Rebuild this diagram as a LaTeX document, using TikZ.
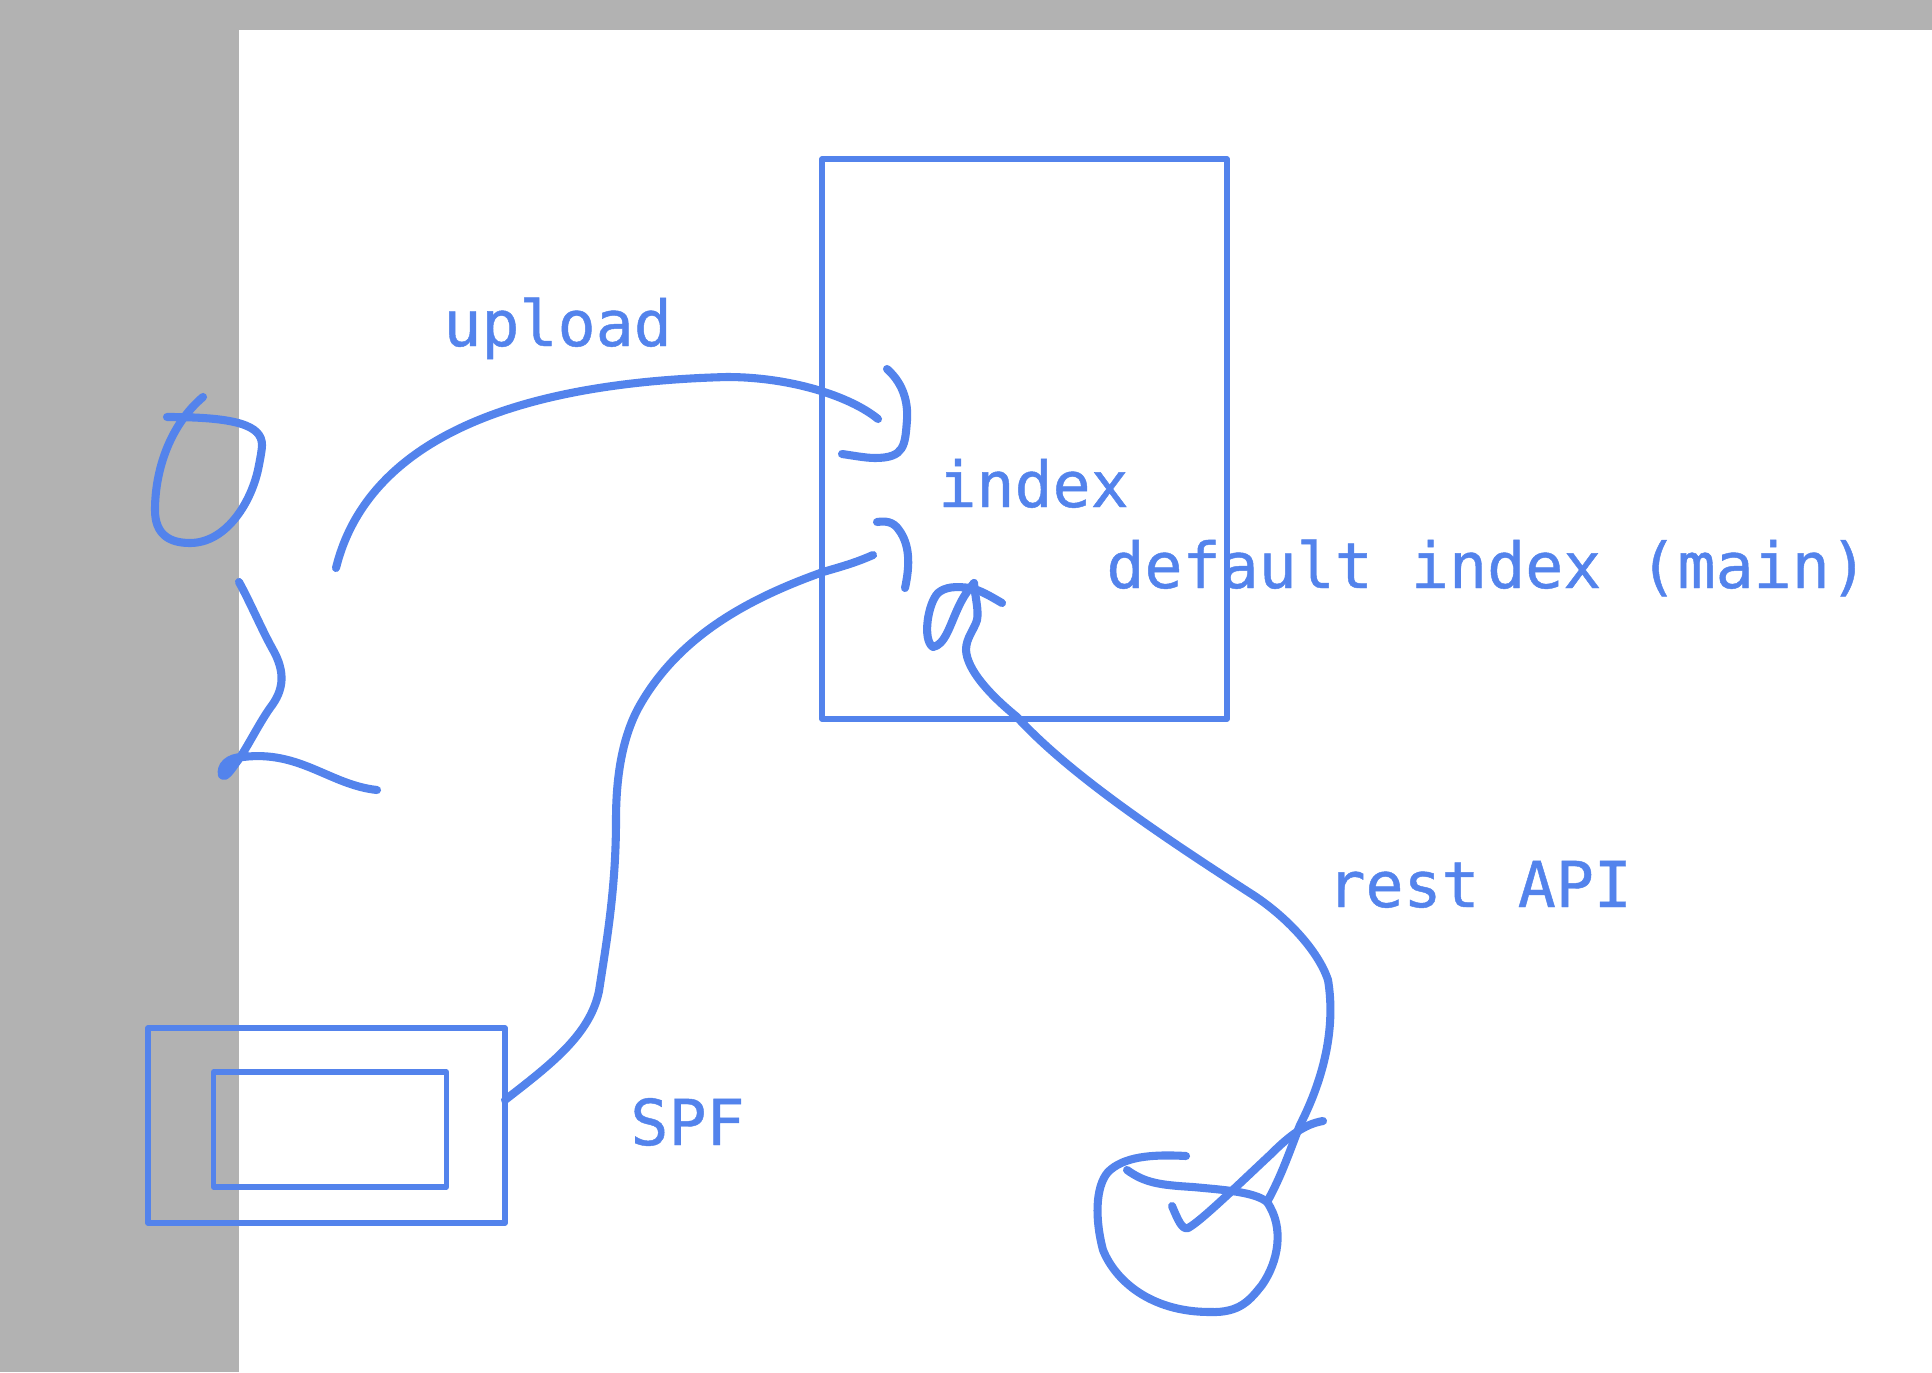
\documentclass[tikz,border=0pt]{standalone}
\usepackage{xcolor}
\usepackage{fontspec}
\setmonofont{DejaVu Sans Mono}[FakeBold=0.7]
\definecolor{penblue}{HTML}{5383EC}
\definecolor{sidegray}{HTML}{B2B2B2}
\tikzset{
  box/.style={rectangle,draw=penblue,line width=2.9pt,line join=round},
  label/.style={anchor=base west,inner sep=0pt,text=penblue,font=\ttfamily\fontsize{36}{40}\selectfont},
  pen/.style={draw=penblue,line width=4.6pt,line cap=round,line join=round}
}
\begin{document}
\begin{tikzpicture}[x=0.02cm,y=-0.02cm]
\useasboundingbox (0,0) rectangle (1932,1372);
\fill[sidegray] (0,0) rectangle (1932,30);
\fill[sidegray] (0,0) rectangle (239,1372);

\node (Index)[box,minimum width=405*0.02cm,minimum height=560*0.02cm] at (1024.5,439) {};
\node (SpfOuter)[box,minimum width=357*0.02cm,minimum height=195*0.02cm] at (326.5,1125.5) {};
\node (SpfInner)[box,minimum width=233*0.02cm,minimum height=115*0.02cm] at (330,1129.5) {};

\node (Upload)[label] at (443,346) {upload};
\node (IndexText)[label] at (938,507) {index};
\node (Default)[label] at (1106,588) {default index (main)};
\node (Rest)[label] at (1327,907) {rest API};
\node (Spf)[label] at (630,1145) {SPF};

\coordinate (SpfOut) at (505,1100);
\coordinate (IndexIn) at (878,419);
\coordinate (IndexOut) at (873,555);
\coordinate (ApiTip) at (974,583);
\coordinate (BlobTop) at (1267,1202);

% person
\draw[pen] (203,397) .. controls (170,425) and (155,470) .. (155,510)
  .. controls (155,535) and (170,543) .. (190,543)
  .. controls (225,543) and (250,505) .. (258,470)
  .. controls (260,460) and (262,450) .. (262,445)
  .. controls (262,425) and (235,417) .. (167,417);
\draw[pen] (239,582) .. controls (250,602) and (262,630) .. (272,648)
  .. controls (286,672) and (284,690) .. (270,708)
  .. controls (258,725) and (245,752) .. (236,763)
  .. controls (230,772) and (224,779) .. (222,775)
  .. controls (220,766) and (228,757) .. (243,757)
  .. controls (300,750) and (330,785) .. (377,790);

% upload
\draw[pen] (336,568) .. controls (360,470) and (460,384) .. (727,377)
  .. controls (790,377) and (850,396) .. (IndexIn);
\draw[pen] (887,369) .. controls (905,385) and (908,405) .. (907,420)
  .. controls (905,445) and (905,458) .. (875,458)
  .. controls (865,458) and (850,455) .. (842,454);

% spf
\draw[pen] (SpfOut) .. controls (550,1065) and (590,1035) .. (599,991)
  .. controls (606,945) and (616,890) .. (616,820)
  .. controls (616,785) and (620,740) .. (640,705)
  .. controls (680,635) and (750,598) .. (823,572)
  .. controls (840,567) and (855,563) .. (IndexOut);
\draw[pen] (877,522) .. controls (885,521) and (893,521) .. (899,530)
  .. controls (910,545) and (910,565) .. (905,588);

% rest
\draw[pen] (1002,603) .. controls (990,596) and (980,590) .. (970,588)
  .. controls (955,586) and (945,587) .. (938,593)
  .. controls (928,603) and (922,640) .. (933,647)
  .. controls (945,645) and (950,625) .. (958,608)
  .. controls (963,597) and (968,590) .. (ApiTip);
\draw[pen] (ApiTip) .. controls (975,597) and (979,610) .. (977,620)
  .. controls (974,630) and (966,638) .. (966,650)
  .. controls (967,670) and (990,695) .. (1017,717)
  .. controls (1070,775) and (1165,838) .. (1250,893)
  .. controls (1285,915) and (1318,950) .. (1328,980)
  .. controls (1333,1010) and (1333,1060) .. (1300,1125)
  .. controls (1290,1150) and (1282,1175) .. (BlobTop);

% blob
\draw[pen] (1186,1156) .. controls (1150,1154) and (1123,1157) .. (1108,1172)
  .. controls (1095,1187) and (1095,1220) .. (1103,1250)
  .. controls (1115,1280) and (1150,1312) .. (1210,1312)
  .. controls (1240,1313) and (1250,1300) .. (1262,1285)
  .. controls (1278,1262) and (1285,1228) .. (BlobTop)
  .. controls (1255,1192) and (1225,1190) .. (1193,1187)
  .. controls (1160,1185) and (1145,1183) .. (1127,1170);
\draw[pen] (1172,1206) .. controls (1178,1220) and (1182,1230) .. (1188,1228)
  .. controls (1200,1222) and (1240,1183) .. (1270,1155)
  .. controls (1290,1135) and (1305,1124) .. (1323,1121);
\end{tikzpicture}
\end{document}
